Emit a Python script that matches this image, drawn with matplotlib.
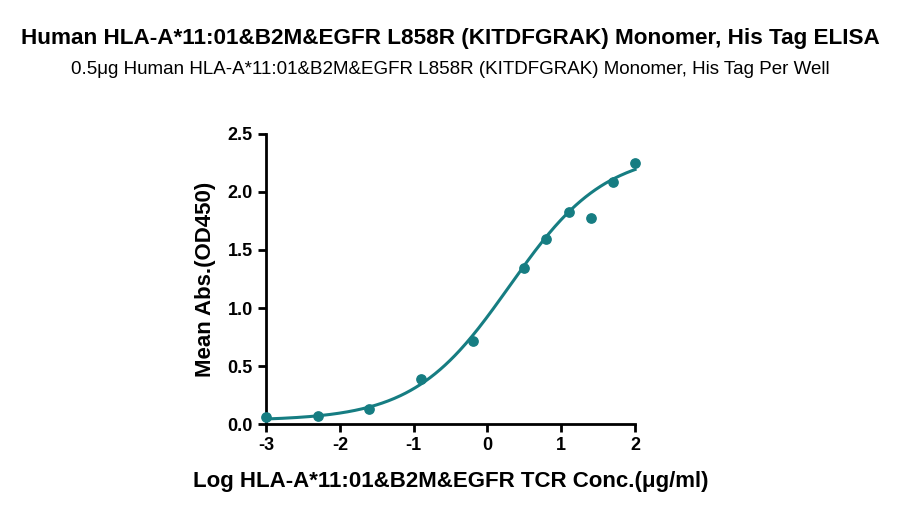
import numpy as np
from matplotlib import pyplot as plt

log_conc = [-3.0, -2.3, -1.6, -0.9, -0.2, 0.5, 0.8, 1.1, 1.4, 1.7, 2.0]
od450 = [0.058, 0.072, 0.127, 0.39, 0.716, 1.346, 1.597, 1.827, 1.778, 2.083, 2.253]

# 4PL fit parameters (estimated from the curve)
bottom, top, log_ec50, hill = 0.03, 2.35, 0.30, 0.67

teal = '#167d82'
plt.rcParams['font.family'] = ['Liberation Sans', 'DejaVu Sans']
plt.rcParams['axes.unicode_minus'] = False

fig = plt.figure(figsize=(9, 5.21), dpi=100)
ax = fig.add_axes([0.2956, 0.186, 0.41, 0.557])

xs = np.linspace(-3, 2, 300)
fit = bottom + (top - bottom) / (1 + 10 ** ((log_ec50 - xs) * hill))
ax.plot(xs, fit, c=teal, lw=2.2, clip_on=False)
ax.scatter(log_conc, od450, s=45, c=teal, zorder=3, clip_on=False)

ax.set_xlim(-3, 2)
ax.set_ylim(0, 2.5)
ax.set_xticks(range(-3, 3))
ax.set_yticks([0, 0.5, 1.0, 1.5, 2.0, 2.5])
ax.set_yticklabels(['0.0', '0.5', '1.0', '1.5', '2.0', '2.5'])
for s in ['top', 'right']:
	ax.spines[s].set_visible(False)
for s in ['left', 'bottom']:
	ax.spines[s].set_linewidth(2)
ax.tick_params(width=2, length=6, labelsize=13)
for lab in ax.get_xticklabels() + ax.get_yticklabels():
	lab.set_fontweight('bold')

ax.set_xlabel('Log HLA-A*11:01&B2M&EGFR TCR Conc.(\u03bcg/ml)', fontsize=16, fontweight='bold', labelpad=12)
ax.set_ylabel('Mean Abs.(OD450)', fontsize=16, fontweight='bold', labelpad=8)

fig.text(0.5, 0.927, 'Human HLA-A*11:01&B2M&EGFR L858R (KITDFGRAK) Monomer, His Tag ELISA',
	ha='center', va='center', fontsize=16.2, fontweight='bold')
fig.text(0.5, 0.866, '0.5\u03bcg Human HLA-A*11:01&B2M&EGFR L858R (KITDFGRAK) Monomer, His Tag Per Well',
	ha='center', va='center', fontsize=13.5)

fig.savefig('out.png', dpi=100)
